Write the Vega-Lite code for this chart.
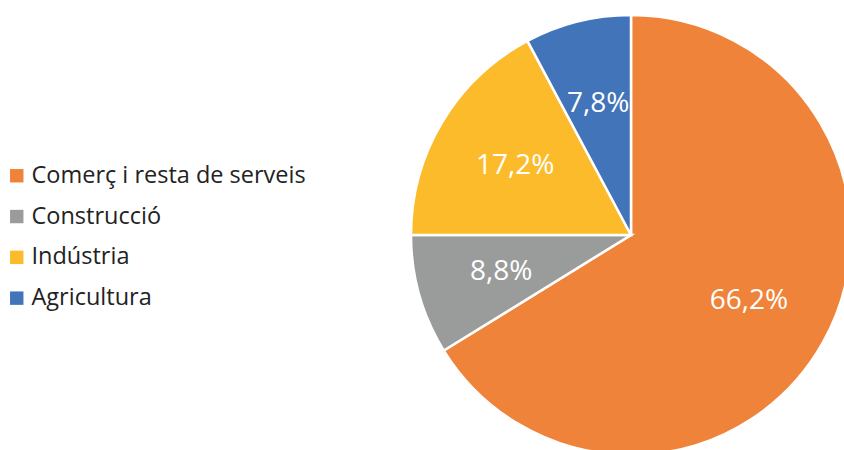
{
  "$schema": "https://vega.github.io/schema/vega-lite/v6.json",
  "width": 1262,
  "height": 470,
  "autosize": "none",
  "padding": 0,
  "background": "white",
  "config": {"view": {"stroke": null}},
  "data": {"values": [
    {"sector": "Comerç i resta de serveis", "value": 66.2, "label": "66,2%", "order": 1},
    {"sector": "Construcció", "value": 8.8, "label": "8,8%", "order": 2},
    {"sector": "Indústria", "value": 17.2, "label": "17,2%", "order": 3},
    {"sector": "Agricultura", "value": 7.8, "label": "7,8%", "order": 4}
  ]},
  "encoding": {
    "theta": {"field": "value", "type": "quantitative", "stack": true},
    "order": {"field": "order", "type": "quantitative"},
    "color": {
      "field": "sector", "type": "nominal",
      "sort": ["Comerç i resta de serveis", "Construcció", "Indústria", "Agricultura"],
      "scale": {
        "domain": ["Comerç i resta de serveis", "Construcció", "Indústria", "Agricultura"],
        "range": ["#F0833A", "#9A9C9C", "#FCBB2B", "#4274BA"]
      },
      "legend": {
        "orient": "none", "legendX": 5, "legendY": 164,
        "title": null,
        "symbolType": "square", "symbolSize": 180, "symbolStrokeWidth": 0,
        "labelFont": "Open Sans", "labelFontSize": 23.5, "labelColor": "#222222",
        "labelOffset": 3, "rowPadding": 15.8, "labelLimit": 400
      }
    }
  },
  "layer": [
    {"mark": {"type": "arc", "radius": 220, "stroke": "white", "strokeWidth": 2.5}},
    {"mark": {"type": "text", "radius": 135, "font": "Open Sans", "fontSize": 28, "fontWeight": 500, "fill": "white"},
     "encoding": {"text": {"field": "label", "type": "nominal"}, "color": {"value": "white"}}}
  ]
}
